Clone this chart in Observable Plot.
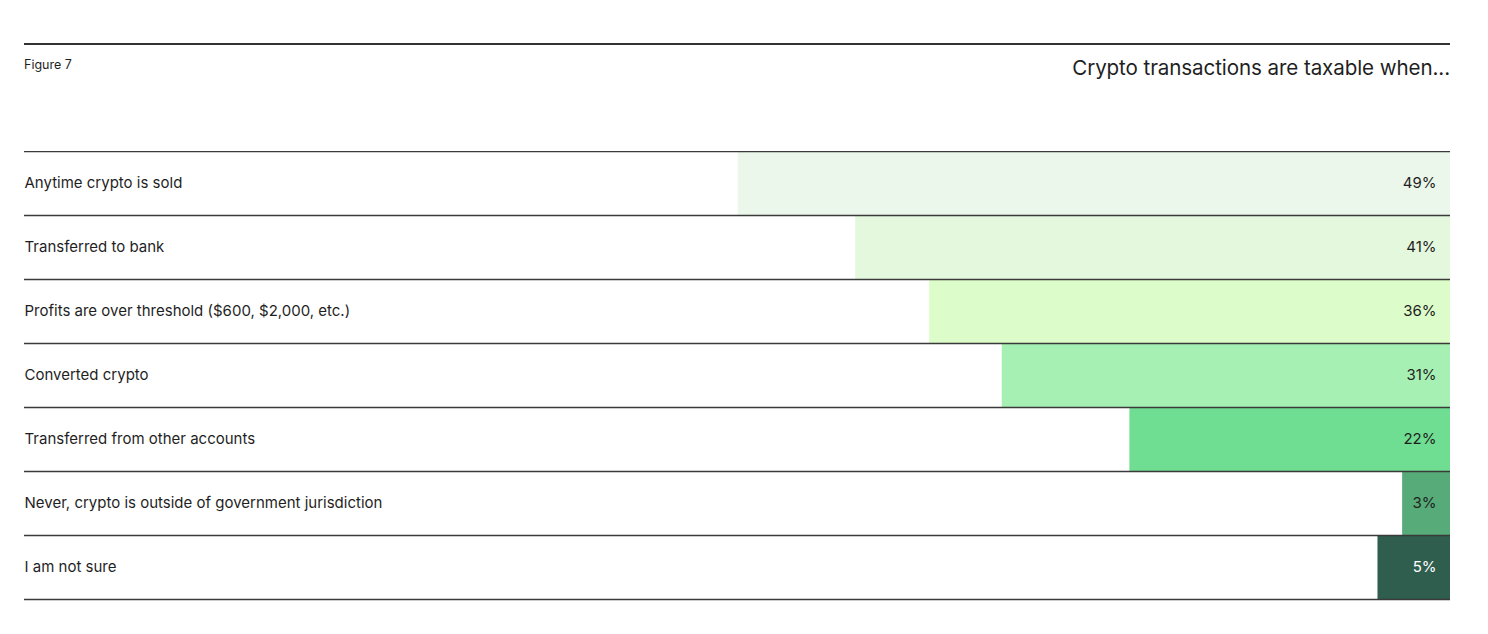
<!DOCTYPE html>
<html>
<head>
<meta charset="utf-8">
<script src="https://cdn.jsdelivr.net/npm/d3@7"></script>
<script src="https://cdn.jsdelivr.net/npm/@observablehq/plot@0.6"></script>
<style>
  html, body { margin: 0; padding: 0; background: #fff; }
  body { width: 1488px; height: 634px; overflow: hidden; font-family: Inter, "Noto Sans", sans-serif; color: #1f1f1f; }
  #header { position: relative; height: 151px; }
  #toprule { position: absolute; left: 24px; top: 43px; width: 1426px; height: 1.5px; background: #333; }
  #fig { position: absolute; left: 24px; top: 57px; font-size: 12.5px; }
  #title { position: absolute; right: 38px; top: 55px; font-size: 20.6px; letter-spacing: -0.1px; }
</style>
</head>
<body>
<div id="header">
  <div id="toprule"></div>
  <div id="fig">Figure 7</div>
  <div id="title">Crypto transactions are taxable when...</div>
</div>
<div id="chart"></div>
<script>
const categories = [
  "Anytime crypto is sold",
  "Transferred to bank",
  "Profits are over threshold ($600, $2,000, etc.)",
  "Converted crypto",
  "Transferred from other accounts",
  "Never, crypto is outside of government jurisdiction",
  "I am not sure"
];
const values = [49.1, 41, 35.9, 30.9, 22.1, 3.3, 5];
const barColors = ["#ebf7ea", "#e4f8de", "#dcfdca", "#a7f0b3", "#6fdd92", "#57ab79", "#2f5e4f"];
const labelColors = ["#1f1f1f", "#1f1f1f", "#1f1f1f", "#1f1f1f", "#1f1f1f", "#1f1f1f", "#ffffff"];

const data = categories.map((c, i) => ({c, v: values[i], i, fill: barColors[i], tc: labelColors[i]}));

const chart = Plot.plot({
  width: 1488,
  height: 483,
  marginTop: 0,
  marginBottom: 35,
  marginLeft: 24,
  marginRight: 38,
  style: {fontFamily: "Inter, 'Noto Sans', sans-serif", background: "#fff"},
  x: {domain: [0, 98.3], reverse: true, axis: null},
  y: {domain: [0, categories.length], reverse: true, axis: null},
  color: {type: "identity"},
  marks: [
    Plot.rect(data, {x1: 0, x2: "v", y1: "i", y2: d => d.i + 1, fill: "fill"}),
    Plot.ruleY(d3.range(categories.length + 1), {stroke: "#3a3a3a", strokeWidth: 1.5}),
    Plot.text(data, {y: d => d.i + 0.5, text: "c", frameAnchor: "left", textAnchor: "start", fontSize: 15, fill: "#1f1f1f"}),
    Plot.text(data, {x: 0, y: d => d.i + 0.5, text: d => Math.round(d.v) + "%", textAnchor: "end", dx: -14, fontSize: 15, fill: "tc"})
  ]
});
document.getElementById("chart").appendChild(chart);
</script>
</body>
</html>
